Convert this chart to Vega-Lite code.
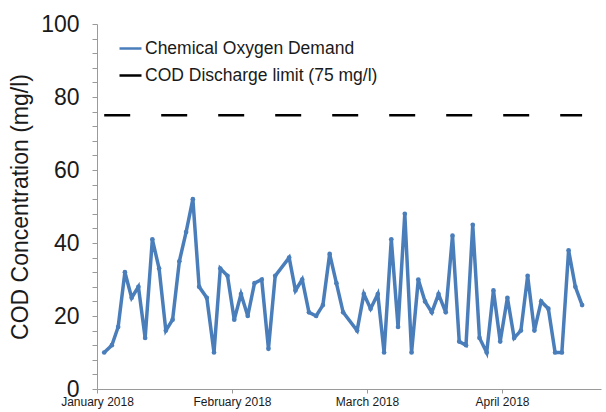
{
  "$schema": "https://vega.github.io/schema/vega-lite/v6.json",
  "width": 504,
  "height": 365,
  "autosize": "none",
  "padding": {"left": 97, "top": 24, "right": 5, "bottom": 23},
  "background": "white",
  "config": {
    "view": {"stroke": null},
    "font": "Liberation Sans",
    "axis": {"grid": false, "domainColor": "#9a9a9a", "tickColor": "#9a9a9a", "labelColor": "#1a1a1a", "titleColor": "#1a1a1a", "labelFont": "Liberation Sans", "titleFont": "Liberation Sans"}
  },
  "datasets": {
    "cod": [
      {"day": 1.6, "cod": 10}, {"day": 3.3, "cod": 12}, {"day": 4.7, "cod": 17}, {"day": 6.2, "cod": 32},
      {"day": 7.7, "cod": 25}, {"day": 9.2, "cod": 28}, {"day": 10.7, "cod": 14}, {"day": 12.3, "cod": 41},
      {"day": 13.8, "cod": 33}, {"day": 15.3, "cod": 16}, {"day": 16.8, "cod": 19}, {"day": 18.3, "cod": 35},
      {"day": 19.8, "cod": 43}, {"day": 21.3, "cod": 52}, {"day": 22.7, "cod": 28}, {"day": 24.4, "cod": 25},
      {"day": 26.0, "cod": 10}, {"day": 27.4, "cod": 33}, {"day": 29.0, "cod": 31}, {"day": 30.5, "cod": 19},
      {"day": 32.0, "cod": 26}, {"day": 33.5, "cod": 20}, {"day": 35.0, "cod": 29}, {"day": 36.6, "cod": 30},
      {"day": 38.1, "cod": 11}, {"day": 39.6, "cod": 31}, {"day": 42.7, "cod": 36}, {"day": 44.1, "cod": 27},
      {"day": 45.6, "cod": 30}, {"day": 47.1, "cod": 21}, {"day": 48.7, "cod": 20}, {"day": 50.2, "cod": 23},
      {"day": 51.7, "cod": 37}, {"day": 53.2, "cod": 29}, {"day": 54.7, "cod": 21}, {"day": 57.8, "cod": 16},
      {"day": 59.3, "cod": 26}, {"day": 60.8, "cod": 22}, {"day": 62.4, "cod": 26}, {"day": 63.8, "cod": 10},
      {"day": 65.4, "cod": 41}, {"day": 66.9, "cod": 17}, {"day": 68.4, "cod": 48}, {"day": 69.9, "cod": 10},
      {"day": 71.4, "cod": 30}, {"day": 72.9, "cod": 24}, {"day": 74.4, "cod": 21}, {"day": 75.9, "cod": 26},
      {"day": 77.5, "cod": 21}, {"day": 79.0, "cod": 42}, {"day": 80.5, "cod": 13}, {"day": 82.0, "cod": 12},
      {"day": 83.5, "cod": 45}, {"day": 85.0, "cod": 14}, {"day": 86.6, "cod": 10}, {"day": 88.1, "cod": 27},
      {"day": 89.6, "cod": 13}, {"day": 91.2, "cod": 25}, {"day": 92.7, "cod": 14}, {"day": 94.2, "cod": 16},
      {"day": 95.7, "cod": 31}, {"day": 97.2, "cod": 16}, {"day": 98.7, "cod": 24}, {"day": 100.3, "cod": 22},
      {"day": 101.8, "cod": 10}, {"day": 103.3, "cod": 10}, {"day": 104.8, "cod": 38}, {"day": 106.3, "cod": 28},
      {"day": 107.8, "cod": 23}
    ],
    "limit": [
      {"day": 1.6, "limit": 75}, {"day": 107.8, "limit": 75}
    ]
  },
  "layer": [
    {
      "data": {"name": "limit"},
      "mark": {"type": "line", "strokeWidth": 2.5, "strokeDash": [26, 31]},
      "encoding": {
        "x": {
          "field": "day", "type": "quantitative",
          "scale": {"domain": [0, 112], "nice": false, "zero": false},
          "axis": {
            "title": null, "values": [0, 30, 60, 90], "tickCount": 10,
            "labelExpr": "['January 2018','February 2018','March 2018','April 2018'][round(datum.value/30)]",
            "labelFontSize": 12, "tickSize": 4, "labelPadding": 3, "labelFlush": false, "labelOverlap": false
          }
        },
        "y": {
          "field": "limit", "type": "quantitative",
          "scale": {"domain": [0, 100], "nice": false},
          "axis": {
            "title": "COD Concentration (mg/l)",
            "titleFontSize": 23, "titleFontWeight": "normal", "titlePadding": 8,
            "values": [0,4,8,12,16,20,24,28,32,36,40,44,48,52,56,60,64,68,72,76,80,84,88,92,96,100],
            "tickCount": 40,
            "labelExpr": "datum.value % 20 == 0 ? datum.label : ''",
            "labelOverlap": false, "labelBound": false, "labelFlush": false,
            "labelFontSize": 23, "tickSize": 5, "labelPadding": 13
          }
        },
        "color": {"datum": "COD Discharge limit (75 mg/l)"}
      }
    },
    {
      "data": {"name": "cod"},
      "mark": {"type": "line", "strokeWidth": 3.5, "point": {"filled": true, "size": 22}},
      "encoding": {
        "x": {
          "field": "day", "type": "quantitative",
          "scale": {"domain": [0, 112], "nice": false, "zero": false},
          "axis": {
            "title": null, "values": [0, 30, 60, 90], "tickCount": 10,
            "labelExpr": "['January 2018','February 2018','March 2018','April 2018'][round(datum.value/30)]",
            "labelFontSize": 12, "tickSize": 4, "labelPadding": 3, "labelFlush": false, "labelOverlap": false
          }
        },
        "y": {
          "field": "cod", "type": "quantitative",
          "scale": {"domain": [0, 100], "nice": false},
          "axis": {
            "title": "COD Concentration (mg/l)",
            "titleFontSize": 23, "titleFontWeight": "normal", "titlePadding": 8,
            "values": [0,4,8,12,16,20,24,28,32,36,40,44,48,52,56,60,64,68,72,76,80,84,88,92,96,100],
            "tickCount": 40,
            "labelExpr": "datum.value % 20 == 0 ? datum.label : ''",
            "labelOverlap": false, "labelBound": false, "labelFlush": false,
            "labelFontSize": 23, "tickSize": 5, "labelPadding": 13
          }
        },
        "color": {
          "datum": "Chemical Oxygen Demand",
          "scale": {"domain": ["Chemical Oxygen Demand", "COD Discharge limit (75 mg/l)"], "range": ["#4a7ebb", "#000000"]},
          "legend": {
            "title": null, "orient": "none", "legendX": 21, "legendY": 12,
            "symbolType": "stroke", "symbolSize": 484, "symbolStrokeWidth": 2.5,
            "labelFontSize": 17.5, "labelFont": "Liberation Sans", "labelColor": "#1a1a1a",
            "labelLimit": 0, "labelOffset": 2, "rowPadding": 6
          }
        }
      }
    }
  ]
}
